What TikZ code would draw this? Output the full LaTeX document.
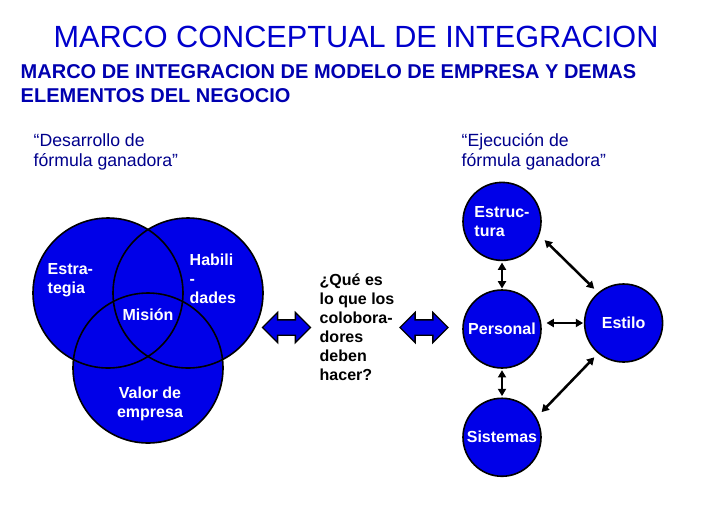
\documentclass[tikz,border=0pt]{standalone}
\usepackage{fontspec}
\setmainfont{Liberation Sans}
\usetikzlibrary{shapes.arrows, arrows.meta, positioning}

\definecolor{venn}{RGB}{0,0,232}
\definecolor{titleblue}{RGB}{0,0,204}
\definecolor{subblue}{RGB}{0,0,176}
\definecolor{quoteblue}{RGB}{0,0,140}

\begin{document}
\begin{tikzpicture}[
    x=0.75pt, y=-0.75pt,
    title/.style={font=\fontsize{23}{27}\selectfont, text=titleblue},
    subtitle/.style={font=\fontsize{15}{18}\selectfont\bfseries, text=subblue, align=left, anchor=west},
    quote/.style={font=\fontsize{13.25}{15}\selectfont, text=quoteblue, align=left, anchor=west},
    label_white/.style={font=\fontsize{12}{14.25}\selectfont\bfseries, text=white, align=left},
    question/.style={font=\fontsize{12}{14.25}\selectfont\bfseries, align=left, anchor=west},
    element/.style={circle, draw=black, line width=1.2pt, fill=venn, minimum size=58.5pt, inner sep=0pt, label_white},
    block_arrow/.style={double arrow, draw=black, line width=1pt, fill=venn, double arrow head extend=5.6pt, inner xsep=0pt, inner ysep=5.25pt, minimum height=36pt},
    link/.style={{Triangle[length=5.5pt,width=6pt]}-{Triangle[length=5.5pt,width=6pt]}, line width=1.9pt}
]
\useasboundingbox (0,0) rectangle (706,529);

% --- Headings ---
\node[title] (title) at (356,37) {MARCO CONCEPTUAL DE INTEGRACION};
\node[subtitle] (subtitle) at (16,84) {MARCO DE INTEGRACION DE MODELO DE EMPRESA Y DEMAS\\ELEMENTOS DEL NEGOCIO};
\node[quote] (q_desarrollo) at (29,152) {``Desarrollo de\\fórmula ganadora''};
\node[quote] (q_ejecucion) at (457,152) {``Ejecución de\\fórmula ganadora''};

% --- Venn (modelo de empresa) ---
\foreach \c in {(108,293), (188,293), (148,368)}
    \fill[venn] \c circle[radius=75];
\foreach \c in {(108,293), (188,293), (148,368)}
    \draw[line width=1.2pt] \c circle[radius=75];

\node[label_white, anchor=west] (estrategia) at (43,280) {Estra-\\tegia};
\node[label_white, anchor=west] (habilidades) at (185,279) {Habili\\-\\dades};
\node[label_white] (mision) at (148,315) {Misión};
\node[label_white, align=center] (valor) at (150,404) {Valor de\\empresa};

% --- Center ---
\node[block_arrow] (arrow_venn) at (286.5,327.5) {};
\node[question] (question) at (315,327) {¿Qué es\\lo que los\\colobora-\\dores\\deben\\hacer?};
\node[block_arrow] (arrow_elem) at (424,327.5) {};

% --- Elementos del negocio ---
\node[element] (personal) at (502,329) {Personal};
\node[element, above=21pt of personal] (estructura) {Estruc-\\tura};
\node[element, below=21.5pt of personal] (sistemas) {Sistemas};
\node[element, right=31.5pt of personal, yshift=4.5pt] (estilo) {Estilo};

\draw[link, shorten <=1pt, shorten >=0.5pt] (estructura) -- (personal);
\draw[link, shorten <=1pt, shorten >=1pt] (personal) -- (sistemas);
\draw[link, shorten <=3.5pt, shorten >=0.5pt] (personal.east |- estilo.west) -- (estilo.west);
\draw[link, shorten <=5.5pt, shorten >=4pt] (estructura.-20) -- (estilo.130);
\draw[link, shorten <=5.5pt, shorten >=4pt] (sistemas.30) -- (estilo.-130);

\end{tikzpicture}
\end{document}
